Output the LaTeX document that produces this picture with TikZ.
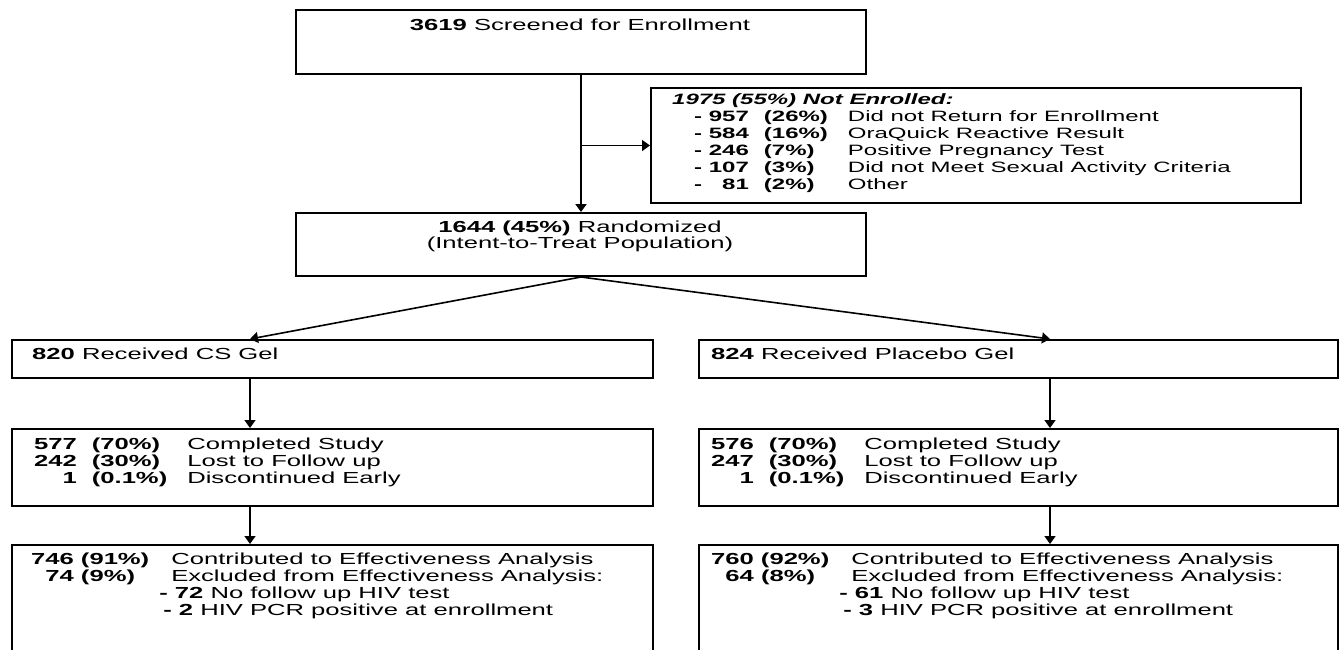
\documentclass[tikz,border=0pt]{standalone}
\usepackage{fontspec}
\setmainfont[FakeStretch=1.6]{Liberation Sans}
\usetikzlibrary{arrows.meta}
\begin{document}
\begin{tikzpicture}[x=1pt,y=-1pt,
    box/.style={draw,line width=2pt,anchor=north west,inner sep=0pt},
    txt/.style={anchor=base west,inner sep=0pt,font=\fontsize{16}{17}\selectfont},
    small/.style={txt,font=\fontsize{15}{17}\selectfont},
    arr/.style={line width=1.6pt,-{Triangle[length=8pt,width=11pt]}}]
    \useasboundingbox (0,0) rectangle (1339,649);
    %% Boxes
    \node[box,minimum width=570pt,minimum height=64pt] (screen) at (295,9) {};
    \node[box,minimum width=650pt,minimum height=115pt] (nonenr) at (650,87) {};
    \node[box,minimum width=570pt,minimum height=63pt] (rand) at (295,212) {};
    \node[box,minimum width=641pt,minimum height=38pt] (cs) at (11,339) {};
    \node[box,minimum width=639pt,minimum height=38pt] (pl) at (698,339) {};
    \node[box,minimum width=641pt,minimum height=77pt] (csres) at (11,428) {};
    \node[box,minimum width=639pt,minimum height=77pt] (plres) at (698,428) {};
    \node[box,minimum width=641pt,minimum height=108pt] (cseff) at (11,544) {};
    \node[box,minimum width=639pt,minimum height=108pt] (pleff) at (698,544) {};
    %% Texts
    \node[txt,anchor=base] (screentxt) at (580,30) {\textbf{3619} Screened for Enrollment};
    \node[small] (nehead) at (672,104) {\textbf{\textit{1975 (55\%) Not Enrolled:}}};
    \node[small] (nelist) at (694,121) {\begin{tabular}[t]{@{}l@{\hspace{6.7pt}}r@{\hspace{15pt}}l@{\hspace{20pt}}l@{}}
        \textbf{-} & \textbf{957} & \textbf{(26\%)} & Did not Return for Enrollment\\
        \textbf{-} & \textbf{584} & \textbf{(16\%)} & OraQuick Reactive Result\\
        \textbf{-} & \textbf{246} & \textbf{(7\%)} & Positive Pregnancy Test\\
        \textbf{-} & \textbf{107} & \textbf{(3\%)} & Did not Meet Sexual Activity Criteria\\
        \textbf{-} & \textbf{81} & \textbf{(2\%)} & Other
    \end{tabular}};
    \node[txt,anchor=base] (randtxt) at (580,232) {\textbf{1644 (45\%)} Randomized};
    \node[txt,anchor=base] (itt) at (580,248) {(Intent-to-Treat Population)};
    \node[txt] (cstxt) at (32,359) {\textbf{820} Received CS Gel};
    \node[txt] (pltxt) at (711,359) {\textbf{824} Received Placebo Gel};
    \node[txt] (csrestxt) at (34,449) {\begin{tabular}[t]{@{}r@{\hspace{15pt}}l@{\hspace{20pt}}l@{}}
        \textbf{577} & \textbf{(70\%)} & Completed Study\\
        \textbf{242} & \textbf{(30\%)} & Lost to Follow up\\
        \textbf{1} & \textbf{(0.1\%)} & Discontinued Early
    \end{tabular}};
    \node[txt] (plrestxt) at (711,449) {\begin{tabular}[t]{@{}r@{\hspace{15pt}}l@{\hspace{20pt}}l@{}}
        \textbf{576} & \textbf{(70\%)} & Completed Study\\
        \textbf{247} & \textbf{(30\%)} & Lost to Follow up\\
        \textbf{1} & \textbf{(0.1\%)} & Discontinued Early
    \end{tabular}};
    \node[txt] (cso) at (31,564) {\begin{tabular}[t]{@{}c@{\hspace{22pt}}l@{}}
        \textbf{746 (91\%)} & Contributed to Effectiveness Analysis\\
        \textbf{74 (9\%)} & Excluded from Effectiveness Analysis:\\
        & \hspace*{-12pt}\textbf{- 72} No follow up HIV test\\
        & \hspace*{-8pt}\textbf{- 2} HIV PCR positive at enrollment
    \end{tabular}};
    \node[txt] (plo) at (711,564) {\begin{tabular}[t]{@{}c@{\hspace{22pt}}l@{}}
        \textbf{760 (92\%)} & Contributed to Effectiveness Analysis\\
        \textbf{64 (8\%)} & Excluded from Effectiveness Analysis:\\
        & \hspace*{-12pt}\textbf{- 61} No follow up HIV test\\
        & \hspace*{-8pt}\textbf{- 3} HIV PCR positive at enrollment
    \end{tabular}};
    %% Arrows
    \coordinate (csin) at (250,339);
    \coordinate (plin) at (1050,339);
    \draw[arr,line width=2.6pt] (screen.south) -- (rand.north);
    \draw[arr] (screen.south |- nonenr.west) -- (nonenr.west);
    \draw[arr] (rand.south) -- (csin);
    \draw[arr] (rand.south) -- (plin);
    \draw[arr] (csin |- cs.south) -- (csin |- csres.north);
    \draw[arr] (plin |- pl.south) -- (plin |- plres.north);
    \draw[arr] (csin |- csres.south) -- (csin |- cseff.north);
    \draw[arr] (plin |- plres.south) -- (plin |- pleff.north);
\end{tikzpicture}
\end{document}
